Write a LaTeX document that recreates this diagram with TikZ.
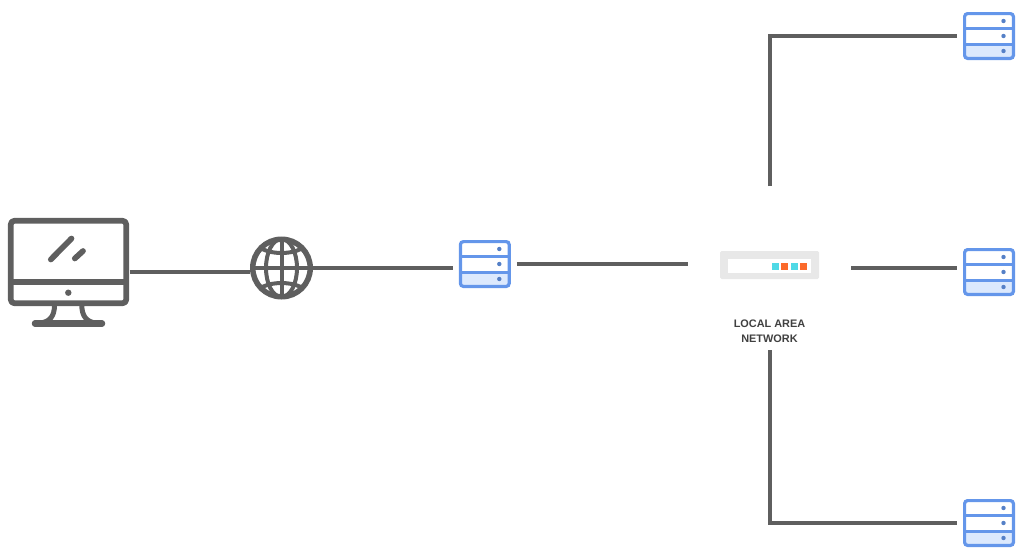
\documentclass[tikz,border=0pt]{standalone}
\usepackage{fontspec}
\setmainfont{Liberation Sans}
\definecolor{wire}{HTML}{5F5F5F}
\definecolor{srvblue}{HTML}{6496EA}
\definecolor{srvlight}{HTML}{DCE9FD}
\definecolor{switchgray}{HTML}{E8E8E8}
\definecolor{portcyan}{HTML}{4FD9E6}
\definecolor{portorange}{HTML}{FB6A2C}
\tikzset{
    wireline/.style={wire, line width=4pt},
    iconline/.style={wire, line width=5.7pt, line join=round},
    srvnode/.style={minimum width=52pt, minimum height=48pt, inner sep=0pt, outer sep=6pt},
    port/.style={minimum size=6.7pt, inner sep=0pt, outer sep=0pt},
    pics/srvstack/.style={code={
        \fill[srvlight] (-25,8) rectangle (25,23);
        \draw[srvblue, line width=3.2pt, rounded corners=3pt] (-24.4,-22.4) rectangle (24.4,22.4);
        \draw[srvblue, line width=3pt] (-24.5,-8) -- (24.5,-8);
        \draw[srvblue, line width=3pt] (-24.5,8) -- (24.5,8);
        \foreach \y in {-15,0,15} {
            \fill[srvblue!85!black] (14.5,\y) circle (2.2pt);
        }
    }}
}
\begin{document}
\begin{tikzpicture}[x=1pt, y=-1pt]
        \useasboundingbox (0,0) rectangle (1028,558);
        % servers
        \foreach \name/\x/\y in {gate/484.8/264, srva/989/36, srvb/989/272, srvc/989/523} {
            \node[srvnode] (\name) at (\x,\y) {};
            \pic at (\x,\y) {srvstack};
        }
        % computer
        \node[minimum width=121pt, minimum height=108pt, inner sep=0pt, outer sep=0.5pt] (pc) at (68.5,272) {};
        \draw[iconline, rounded corners=3.5pt] (10.8,220.8) rectangle (126.2,303.2);
        \draw[iconline] (10.8,281.7) -- (126.2,281.7);
        \fill[wire] (68.3,292.7) circle (3.2pt);
        \draw[iconline, line cap=round] (50.8,259.5) -- (71.5,238.5);
        \draw[iconline, line cap=round] (74.8,258.5) -- (83,251);
        \draw[wire, line width=5pt] (54.5,305) .. controls (54.5,316) and (50,322) .. (40,323);
        \draw[wire, line width=5pt] (81.8,305) .. controls (81.8,316) and (86.5,322) .. (96,323);
        \draw[wire, line width=6.5pt, line cap=round] (35,323.5) -- (102,323.5);
        % globe
        \node[circle, draw=wire, line width=5.5pt, minimum size=57.5pt, inner sep=0pt] (globe) at (281.5,268) {};
        \draw[wire, line width=4pt] (globe.center) ellipse (15.5pt and 29pt);
        \draw[wire, line width=4pt] (281.5,239) -- (281.5,297);
        \draw[wire, line width=4pt] (252.5,268) -- (310.5,268);
        \draw[wire, line width=4pt] (259,247) .. controls (270,255) and (293,255) .. (304,247);
        \draw[wire, line width=4pt] (259,289) .. controls (270,281) and (293,281) .. (304,289);
        % switch
        \node[fill=switchgray, rounded corners=1.5pt, minimum width=99pt, minimum height=28pt, inner sep=0pt] (switch) at (769.5,265) {};
        \fill[white] (727.7,259) rectangle (811,272.7);
        \foreach \name/\x/\col in {porta/775.6/portcyan, portb/784.8/portorange, portc/794.3/portcyan, portd/803.5/portorange} {
            \node[port, fill=\col] (\name) at (\x,266.7) {};
        }
        \node[font=\bfseries\fontsize{10.9pt}{15pt}\selectfont, text=black!75, align=center, inner sep=0pt] (lanlabel) at (769.5,331.5) {LOCAL AREA\\NETWORK};
        \node[minimum width=163pt, minimum height=164pt, inner sep=0pt, outer sep=0pt] (lan) at (769.5,268) {};
        % links
        \draw[wireline] (pc.east) -- (pc.east -| globe.west);
        \draw[wireline] (globe.east) -- (globe.east -| gate.west);
        \draw[wireline] (gate.east) -- (gate.east -| lan.west);
        \draw[wireline] (lan.east) -- (lan.east -| srvb.west);
        \draw[wireline] (lan.north) |- (srva.west);
        \draw[wireline] (lan.south) |- (srvc.west);
    \end{tikzpicture}
\end{document}
